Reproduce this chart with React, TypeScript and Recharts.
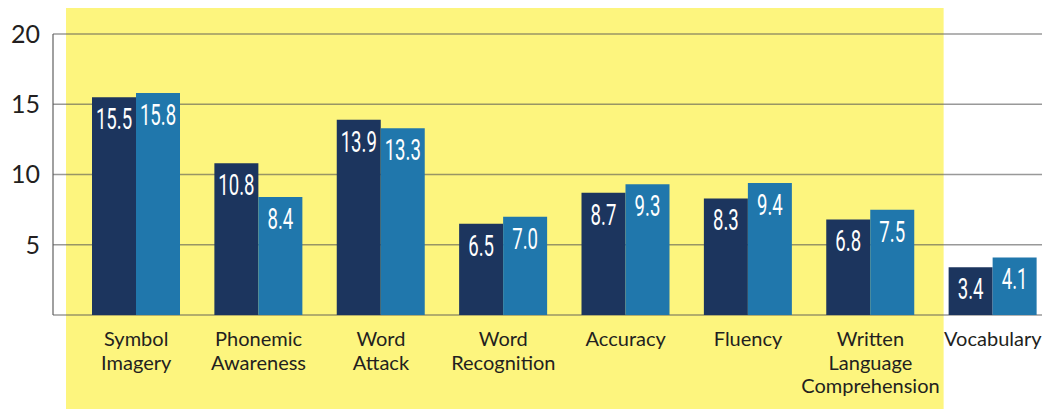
import { BarChart, Bar, XAxis, YAxis, CartesianGrid, ReferenceArea, LabelList } from "recharts";

const categories = [
  "Symbol Imagery",
  "Phonemic Awareness",
  "Word Attack",
  "Word Recognition",
  "Accuracy",
  "Fluency",
  "Written Language Comprehension",
  "Vocabulary",
];
const labelLines = [
  ["Symbol", "Imagery"],
  ["Phonemic", "Awareness"],
  ["Word", "Attack"],
  ["Word", "Recognition"],
  ["Accuracy"],
  ["Fluency"],
  ["Written", "Language", "Comprehension"],
  ["Vocabulary"],
];
const seriesA = [15.5, 10.8, 13.9, 6.5, 8.7, 8.3, 6.8, 3.4];
const seriesB = [15.8, 8.4, 13.3, 7.0, 9.3, 9.4, 7.5, 4.1];
const yTicks = [0, 5, 10, 15, 20];
const highlightFrom = "Symbol Imagery";
const highlightTo = "Written Language Comprehension";

const NAVY = "#1c355e";
const BLUE = "#2077ac";
const YELLOW = "#fdf57e";
const INK = "#231f20";

const data = categories.map((name, i) => ({ name, a: seriesA[i], b: seriesB[i] }));

function CategoryTick(props: any) {
  const { x, y, payload } = props;
  const lines = labelLines[categories.indexOf(payload.value)] ?? [payload.value];
  return (
    <text x={x} y={y + 23} textAnchor="middle" fontFamily="Lato, sans-serif" fontSize={20} fill={INK}>
      {lines.map((l, i) => (
        <tspan key={i} x={x} dy={i === 0 ? 0 : 23.5}>
          {l}
        </tspan>
      ))}
    </text>
  );
}

function ValueLabel(props: any) {
  const { x, y, width, value } = props;
  return (
    <text
      transform={`translate(${x + width / 2},${y + 32}) scale(0.62,1)`}
      textAnchor="middle"
      fontFamily="Roboto, sans-serif"
      fontSize={30}
      fill="#fff"
    >
      {Number(value).toFixed(1)}
    </text>
  );
}

export default function App() {
  return (
    <div style={{ width: 1042, height: 401, overflow: "hidden" }}>
      <BarChart
        width={1046}
        height={401}
        data={data}
        margin={{ top: 26, right: 0, bottom: 0, left: 0 }}
        barSize={44}
        barGap={0}
      >
        <ReferenceArea
          x1={highlightFrom}
          x2={highlightTo}
          y1={-6.7}
          y2={21.9}
          ifOverflow="visible"
          zIndex={-200}
          shape={(p: any) => (
            <rect x={p.x - 9} y={p.y} width={p.width + 21} height={p.height} fill={YELLOW} />
          )}
        />
        <CartesianGrid vertical={false} stroke="#555" strokeOpacity={0.6} strokeWidth={1.5} />
        <XAxis
          dataKey="name"
          height={94}
          padding={{ left: 22, right: 0 }}
          axisLine={false}
          tickLine={false}
          interval={0}
          tick={<CategoryTick />}
        />
        <YAxis
          width={45}
          domain={[0, 20]}
          ticks={yTicks}
          allowDataOverflow
          tickFormatter={(v: number) => (v === 0 ? "" : String(v))}
          tickLine={false}
          tickSize={0}
          tickMargin={13}
          axisLine={{ stroke: "#555", strokeOpacity: 0.75, strokeWidth: 1.5 }}
          tick={{ fontFamily: "Lato, sans-serif", fontSize: 25, fill: INK }}
        />
        <Bar dataKey="a" fill={NAVY} isAnimationActive={false}>
          <LabelList dataKey="a" content={<ValueLabel />} />
        </Bar>
        <Bar dataKey="b" fill={BLUE} isAnimationActive={false}>
          <LabelList dataKey="b" content={<ValueLabel />} />
        </Bar>
      </BarChart>
    </div>
  );
}
